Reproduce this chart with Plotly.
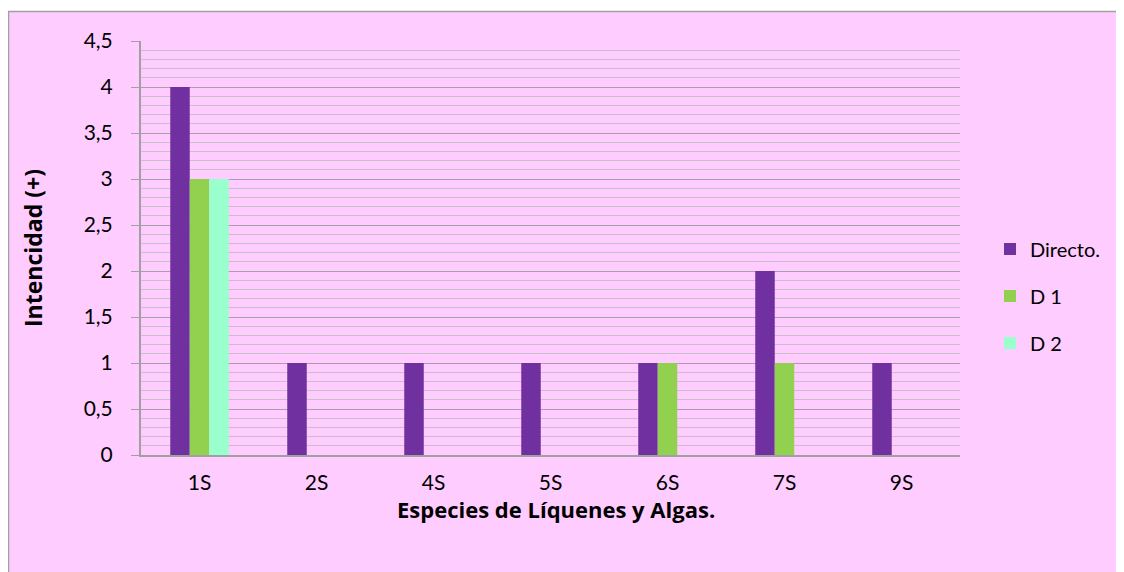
import plotly.graph_objects as go

categories = ["1S", "2S", "4S", "5S", "6S", "7S", "9S"]
directo = [4, 1, 1, 1, 1, 2, 1]
d1 = [3, 0, 0, 0, 1, 1, 0]
d2 = [3, 0, 0, 0, 0, 0, 0]
series_names = ["Directo.", "D 1", "D 2"]
colors = ["#7030A0", "#92D050", "#99FFCC"]
y_ticks = [0, 0.5, 1, 1.5, 2, 2.5, 3, 3.5, 4, 4.5]

FONT = "Lato, 'Open Sans', sans-serif"
TFONT = "'Open Sans', Lato, sans-serif"
PINK = "#FFCCFF"

fig = go.Figure()
for name, vals, col in zip(series_names, [directo, d1, d2], colors):
    fig.add_trace(go.Bar(x=categories, y=vals, name=name, marker_color=col,
                         marker_line_width=0, legendgroup=name))

# page body has an 8px margin; work in page pixels and shift
OFF = 8
W, H = 1116, 564
L, T = 141 - OFF, 41 - OFF
R = W - (960 - OFF)
B = H - (455 - OFF)
pw, ph = W - L - R, H - T - B

def px_x(x):  # page px -> paper
    return (x - OFF - L) / pw

def px_y(y):
    return (H - B - (y - OFF)) / ph

fig.update_layout(
    width=W, height=H,
    margin=dict(l=L, r=R, t=T, b=B),
    paper_bgcolor="white",
    plot_bgcolor=PINK,
    separators=",.",
    barmode="group",
    bargap=0.5,
    bargroupgap=0,
    font=dict(family=FONT, size=20, color="#000000"),
    legend=dict(x=px_x(990), y=px_y(296), xanchor="left", yanchor="middle",
                font=dict(size=20), tracegroupgap=18, bgcolor="rgba(0,0,0,0)",
                traceorder="grouped"),
    shapes=[dict(type="rect", xref="paper", yref="paper", layer="below",
                 x0=px_x(8.5), x1=px_x(1180), y0=px_y(640), y1=px_y(11.5),
                 fillcolor=PINK, line=dict(color="#A0A0A0", width=1.5))],
    annotations=[
        dict(text="<b>Intencidad (+)</b>", xref="paper", yref="paper",
             x=px_x(33), y=px_y(248), textangle=-90, showarrow=False,
             xanchor="center", yanchor="middle", font=dict(size=23, family=TFONT)),
        dict(text="<b>Especies de Líquenes y Algas.</b>", xref="paper", yref="paper",
             x=px_x(556), y=px_y(509), showarrow=False,
             xanchor="center", yanchor="middle", font=dict(size=22, family=TFONT)),
    ],
)

fig.update_yaxes(
    range=[0, 4.5], tickvals=y_ticks,
    showgrid=True, gridcolor="#A8A0A8", gridwidth=1.3,
    minor=dict(dtick=0.1, showgrid=True, gridcolor="#C8C0C8", gridwidth=1),
    showline=True, linecolor="#A0A0A0", linewidth=2,
    ticks="outside", ticklen=8, tickcolor="#A0A0A0", tickwidth=1.3,
    ticklabelstandoff=14,
    zeroline=False,
    tickfont=dict(size=21),
)
fig.update_xaxes(
    showline=True, linecolor="#A0A0A0", linewidth=2,
    ticks="", ticklabelstandoff=8,
    tickfont=dict(size=21),
)

fig.write_html("out.html", default_width="1116px", default_height="564px")
